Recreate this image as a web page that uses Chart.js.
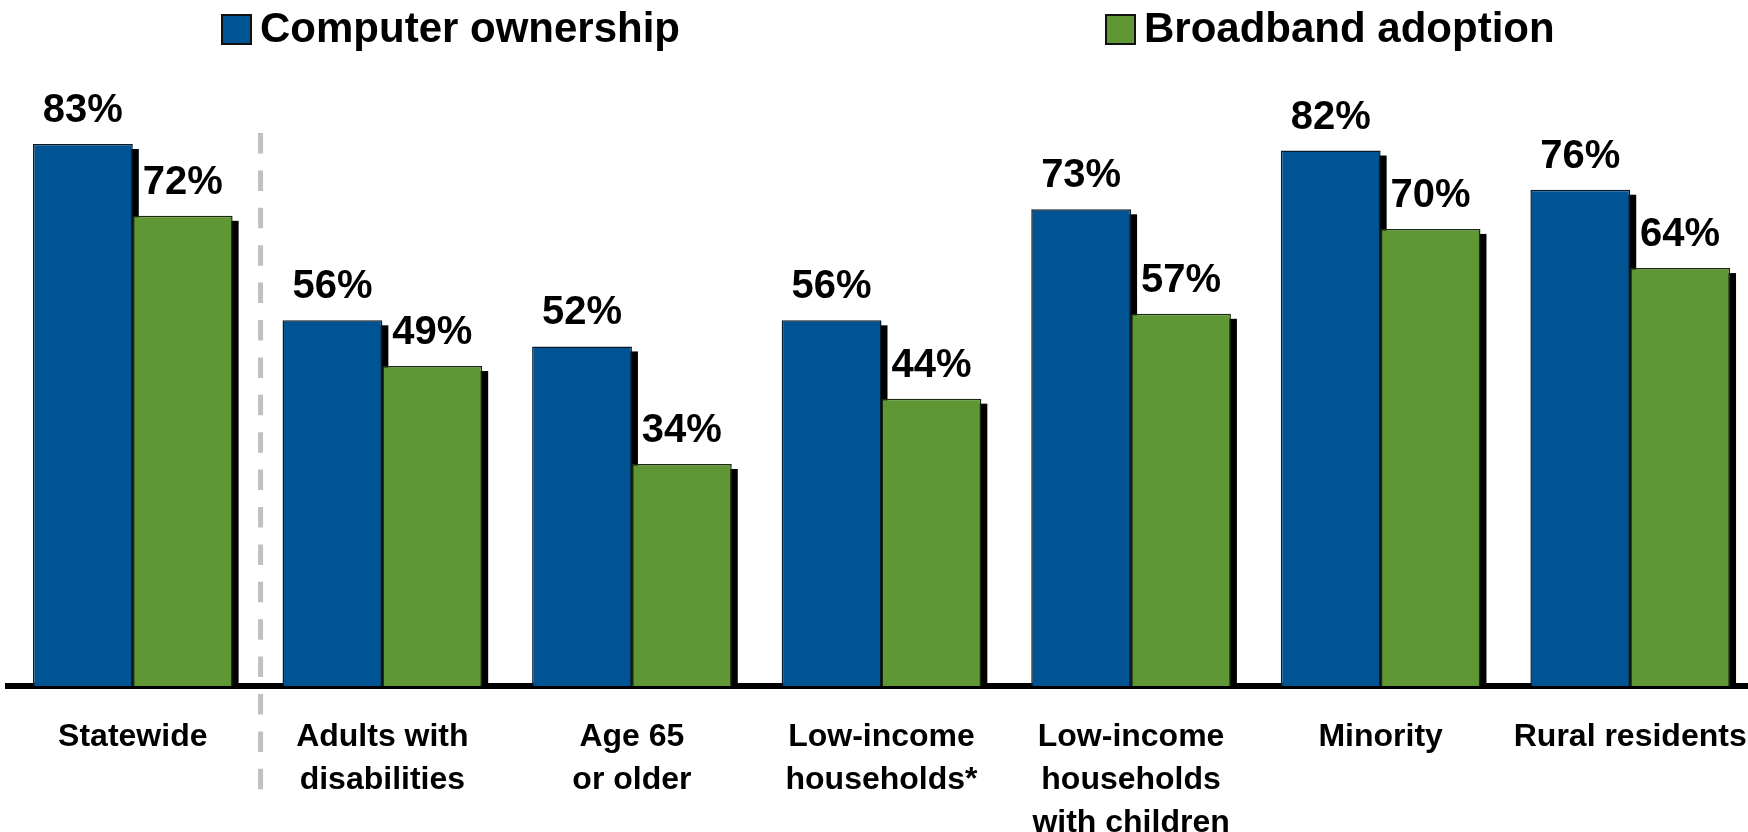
<!DOCTYPE html>
<html>
<head>
<meta charset="utf-8">
<script src="https://cdn.jsdelivr.net/npm/chart.js@4/dist/chart.umd.min.js"></script>
<style>
  html, body { margin: 0; padding: 0; background: #fff; overflow: hidden; }
  #chart { display: block; }
</style>
</head>
<body>
<canvas id="chart" width="1760" height="832"></canvas>
<script>
// Data
const categories = [
  "Statewide",
  ["Adults with", "disabilities"],
  ["Age 65", "or older"],
  ["Low-income", "households*"],
  ["Low-income", "households", "with children"],
  "Minority",
  "Rural residents",
];
const seriesNames = ["Computer ownership", "Broadband adoption"];
const computerOwnership = [83, 56, 52, 56, 73, 82, 76];
const broadbandAdoption = [72, 49, 34, 44, 57, 70, 64];

const BLUE = "#005494";
const GREEN = "#5e9733";
const FONT = "'Liberation Sans', Arial, sans-serif";

// black drop shadow behind every bar
const barShadow = {
  id: "barShadow",
  beforeDatasetsDraw(chart) {
    const ctx = chart.ctx;
    ctx.save();
    ctx.fillStyle = "#000";
    chart.data.datasets.forEach((ds, i) => {
      chart.getDatasetMeta(i).data.forEach((bar) => {
        const { x, y, width, base } = bar.getProps(["x", "y", "width", "base"], true);
        ctx.fillRect(x - width / 2 + 6, y + 5, width, base - y - 5);
      });
    });
    ctx.restore();
  },
};

// percentage above each bar
const valueLabels = {
  id: "valueLabels",
  afterDatasetsDraw(chart) {
    const ctx = chart.ctx;
    ctx.save();
    ctx.font = "bold 40px " + FONT;
    ctx.fillStyle = "#000";
    ctx.textAlign = "center";
    ctx.textBaseline = "alphabetic";
    chart.data.datasets.forEach((ds, i) => {
      chart.getDatasetMeta(i).data.forEach((bar, j) => {
        ctx.fillText(ds.data[j] + "%", bar.x, bar.y - 22);
      });
    });
    ctx.restore();
  },
};

// dashed divider between Statewide and the subgroups
const divider = {
  id: "divider",
  beforeDatasetsDraw(chart) {
    const xs = chart.scales.x;
    const x = (xs.getPixelForValue(0) + xs.getPixelForValue(1)) / 2 + 3;
    const ctx = chart.ctx;
    ctx.save();
    ctx.strokeStyle = "#c0c0c0";
    ctx.lineWidth = 5;
    ctx.setLineDash([20.5, 16.9]);
    ctx.beginPath();
    ctx.moveTo(x, 133);
    ctx.lineTo(x, 790);
    ctx.stroke();
    ctx.restore();
  },
};

// legend drawn with wide spacing between the two entries
const wideLegend = {
  id: "wideLegend",
  afterDraw(chart) {
    const ctx = chart.ctx;
    const boxX = [221, 1105];
    ctx.save();
    ctx.font = "bold 42px " + FONT;
    ctx.textBaseline = "middle";
    ctx.textAlign = "left";
    chart.data.datasets.forEach((ds, i) => {
      ctx.fillStyle = ds.backgroundColor;
      ctx.fillRect(boxX[i], 14, 31, 31);
      ctx.strokeStyle = "#111";
      ctx.lineWidth = 2;
      ctx.strokeRect(boxX[i] + 1, 15, 29, 29);
      ctx.fillStyle = "#000";
      ctx.fillText(ds.label, boxX[i] + 39, 30);
    });
    ctx.restore();
  },
};

new Chart(document.getElementById("chart"), {
  type: "bar",
  data: {
    labels: categories,
    datasets: [
      {
        label: seriesNames[0],
        data: computerOwnership,
        backgroundColor: BLUE,
        borderColor: "#0b1a2a",
        borderWidth: 1.5,
      },
      {
        label: seriesNames[1],
        data: broadbandAdoption,
        backgroundColor: GREEN,
        borderColor: "#1a2a10",
        borderWidth: 1.5,
      },
    ],
  },
  options: {
    responsive: false,
    animation: false,
    layout: { padding: { top: 33, left: 8, right: 5, bottom: 0 } },
    datasets: {
      bar: { categoryPercentage: 0.8, barPercentage: 1.0 },
    },
    plugins: {
      legend: { display: false },
      tooltip: { enabled: false },
    },
    scales: {
      x: {
        z: 1,
        grid: { display: false, drawTicks: false, tickLength: 0 },
        border: { display: true, color: "#000", width: 6 },
        ticks: {
          color: "#000",
          padding: 30,
          maxRotation: 0,
          autoSkip: false,
          font: { family: FONT, size: 32, weight: "bold", lineHeight: 1.34 },
        },
        afterFit(scale) {
          // keep the plot edge-to-edge; long end labels may overhang
          scale.height = 146;
          scale.paddingLeft = 0;
          scale.paddingRight = 0;
        },
      },
      y: {
        display: false,
        min: 0,
        max: 100,
      },
    },
  },
  plugins: [barShadow, divider, valueLabels, wideLegend],
});
</script>
</body>
</html>
